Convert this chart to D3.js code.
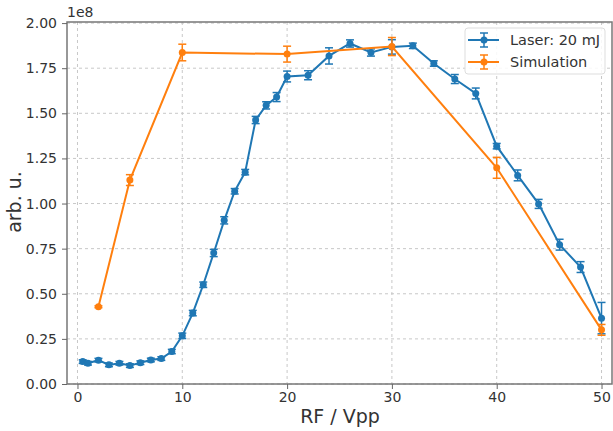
<!DOCTYPE html>
<html>
<head>
<meta charset="utf-8">
<script src="https://cdn.jsdelivr.net/npm/d3@7"></script>
<style>
body { margin: 0; background: #fff; }
text { font-family: "DejaVu Sans", sans-serif; fill: #333; }
.grid line { stroke: #c8c8c8; stroke-dasharray: 3,3; stroke-width: 1; }
.axis path, .axis line { stroke: #666; }
</style>
</head>
<body>
<svg id="chart" width="613" height="431"></svg>
<script>
// laser measurement (blue)
var laserX = [0.5, 1, 2, 3, 4, 5, 6, 7, 8, 9, 10, 11, 12, 13, 14, 15, 16, 17, 18, 19, 20, 22, 24, 26, 28, 30, 32, 34, 36, 38, 40, 42, 44, 46, 48, 50];
var laserY = [0.124, 0.115, 0.132, 0.106, 0.115, 0.102, 0.118, 0.133, 0.141, 0.18, 0.267, 0.393, 0.55, 0.726, 0.907, 1.068, 1.174, 1.463, 1.544, 1.59, 1.704, 1.711, 1.818, 1.887, 1.837, 1.868, 1.874, 1.776, 1.69, 1.61, 1.318, 1.156, 0.998, 0.772, 0.648, 0.365];
var laserErr = [0.01, 0.01, 0.01, 0.01, 0.01, 0.01, 0.01, 0.01, 0.01, 0.012, 0.015, 0.015, 0.015, 0.02, 0.02, 0.015, 0.015, 0.02, 0.02, 0.025, 0.03, 0.025, 0.045, 0.02, 0.02, 0.04, 0.015, 0.015, 0.025, 0.03, 0.015, 0.03, 0.025, 0.03, 0.03, 0.087];
// simulation (orange)
var simX = [2, 5, 10, 20, 30, 40, 50];
var simY = [0.428, 1.13, 1.837, 1.828, 1.87, 1.198, 0.30];
var simErr = [0.005, 0.03, 0.046, 0.044, 0.05, 0.058, 0.03];

var xTicks = [0, 10, 20, 30, 40, 50];
var yTicks = [0, 0.25, 0.5, 0.75, 1.0, 1.25, 1.5, 1.75, 2.0];

var pLeft = 67, pRight = 612, pTop = 22, pBottom = 384;
var svg = d3.select('#chart');

var x = d3.scaleLinear().domain([-1, 51]).range([pLeft, pRight]);
var y = d3.scaleLinear().domain([0, 2.006]).range([pBottom, pTop]);

// grid
var grid = svg.append('g').attr('class', 'grid')
grid.selectAll('line.gx').data(xTicks).enter().append('line')
  .attr('class', 'gx')
  .attr('x1', d => x(d)).attr('x2', d => x(d))
  .attr('y1', pTop).attr('y2', pBottom)
grid.selectAll('line.gy').data(yTicks).enter().append('line')
  .attr('class', 'gy')
  .attr('x1', pLeft).attr('x2', pRight)
  .attr('y1', d => y(d)).attr('y2', d => y(d))

// frame
svg.append('rect')
  .attr('x', pLeft).attr('y', pTop)
  .attr('width', pRight - pLeft).attr('height', pBottom - pTop)
  .attr('fill', 'none').attr('stroke', '#777').attr('stroke-width', 1.5)

// axes
svg.append('g').attr('class', 'axis')
  .attr('transform', 'translate(0,' + pBottom + ')')
  .call(d3.axisBottom(x).tickValues(xTicks).tickSize(5).tickPadding(3).tickFormat(d3.format('d')))
svg.append('g').attr('class', 'axis')
  .attr('transform', 'translate(' + pLeft + ',0)')
  .call(d3.axisLeft(y).tickValues(yTicks).tickSize(5).tickPadding(5).tickFormat(d3.format('.2f')))
svg.selectAll('.axis .domain').remove()
svg.selectAll('.axis text').style('font-size', '14px').attr('fill', '#333')

// labels
svg.append('text')
  .attr('x', 340).attr('y', 423)
  .attr('text-anchor', 'middle')
  .style('font-size', '19px')
  .text('RF / Vpp')
svg.append('text')
  .attr('transform', 'translate(21,202) rotate(-90)')
  .attr('text-anchor', 'middle')
  .style('font-size', '19px')
  .text('arb. u.')
svg.append('text')
  .attr('x', pLeft).attr('y', 17)
  .style('font-size', '14px')
  .text('1e8')

function drawSeries(xs, ys, es, color) {
  var pts = xs.map((d, i) => ({x: d, y: ys[i], e: es[i]}));
  var g = svg.append('g');
  g.append('path')
    .datum(pts)
    .attr('fill', 'none')
    .attr('stroke', color)
    .attr('stroke-width', 2)
    .attr('d', d3.line().x(d => x(d.x)).y(d => y(d.y)))
  var eb = g.selectAll('g.eb').data(pts).enter().append('g')
  eb.append('line')
    .attr('x1', d => x(d.x)).attr('x2', d => x(d.x))
    .attr('y1', d => y(d.y - d.e)).attr('y2', d => y(d.y + d.e))
    .attr('stroke', color).attr('stroke-width', 1.5)
  eb.append('line')
    .attr('x1', d => x(d.x) - 4).attr('x2', d => x(d.x) + 4)
    .attr('y1', d => y(d.y - d.e)).attr('y2', d => y(d.y - d.e))
    .attr('stroke', color).attr('stroke-width', 1.5)
  eb.append('line')
    .attr('x1', d => x(d.x) - 4).attr('x2', d => x(d.x) + 4)
    .attr('y1', d => y(d.y + d.e)).attr('y2', d => y(d.y + d.e))
    .attr('stroke', color).attr('stroke-width', 1.5)
  eb.append('circle')
    .attr('cx', d => x(d.x)).attr('cy', d => y(d.y))
    .attr('r', 3.5)
    .attr('fill', color)
}

drawSeries(laserX, laserY, laserErr, '#1f77b4')
drawSeries(simX, simY, simErr, '#ff7f0e')

// legend
var legend = svg.append('g').attr('transform', 'translate(465,28)')
legend.append('rect')
  .attr('width', 140).attr('height', 46)
  .attr('rx', 3).attr('ry', 3)
  .attr('fill', 'white').attr('fill-opacity', 0.85)
  .attr('stroke', '#ddd')
var entries = [{label: 'Laser: 20 mJ', color: '#1f77b4'}, {label: 'Simulation', color: '#ff7f0e'}]
var le = legend.selectAll('g.le').data(entries).enter().append('g')
  .attr('transform', (d, i) => 'translate(0,' + (12 + i * 22) + ')')
le.append('line').attr('x1', 3).attr('x2', 34).attr('y1', 0).attr('y2', 0)
  .attr('stroke', d => d.color).attr('stroke-width', 2)
le.append('line').attr('x1', 19).attr('x2', 19).attr('y1', -7).attr('y2', 7)
  .attr('stroke', d => d.color).attr('stroke-width', 1.5)
le.append('line').attr('x1', 15).attr('x2', 23).attr('y1', -7).attr('y2', -7)
  .attr('stroke', d => d.color).attr('stroke-width', 1.5)
le.append('line').attr('x1', 15).attr('x2', 23).attr('y1', 7).attr('y2', 7)
  .attr('stroke', d => d.color).attr('stroke-width', 1.5)
le.append('circle').attr('cx', 19).attr('cy', 0).attr('r', 3.5)
  .attr('fill', d => d.color)
le.append('text').attr('x', 45).attr('y', 5)
  .style('font-size', '14.5px')
  .text(d => d.label)
</script>
</body>
</html>
